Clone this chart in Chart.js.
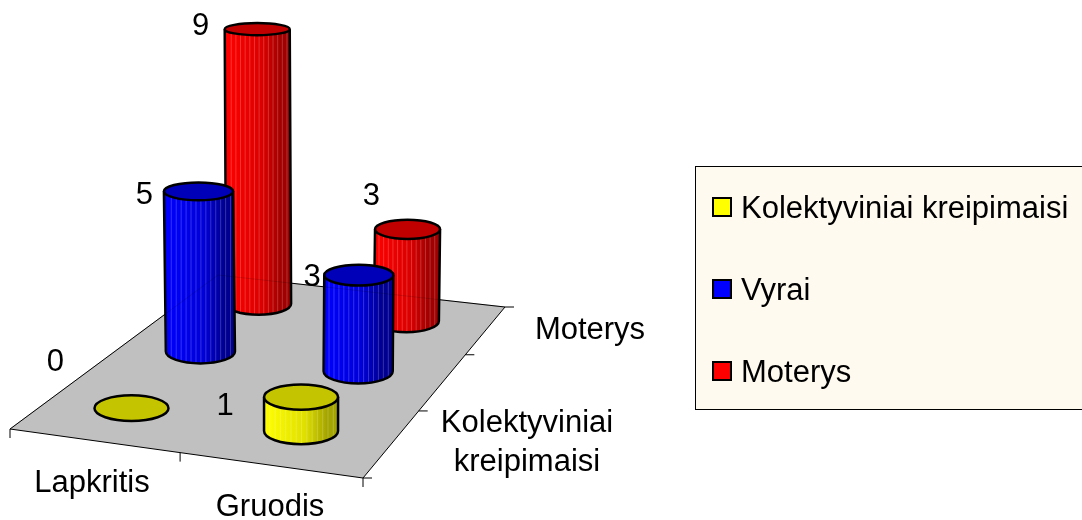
<!DOCTYPE html>
<html>
<head>
<meta charset="utf-8">
<title>Kreipimaisi</title>
<script src="https://cdn.jsdelivr.net/npm/chart.js@4/dist/chart.umd.min.js"></script>
<style>
html, body { margin: 0; padding: 0; background: #fff; }
canvas { display: block; }
</style>
</head>
<body>
<canvas id="myChart" width="1082" height="520"></canvas>
<script>
const categories = ['Lapkritis', 'Gruodis'];
const seriesNames = ['Kolektyviniai kreipimaisi', 'Vyrai', 'Moterys'];
const kolektyviniai = [0, 1];
const vyrai = [5, 3];
const moterys = [9, 3];
const seriesValues = [kolektyviniai, vyrai, moterys];

const FONT = '31px "Liberation Sans", Arial, sans-serif';

// floor corners in pixels: front left, front right, back right, back left
const floor = { A: [10, 429], B: [363, 478], C: [505, 307], D: [218, 275] };
// perspective pull along each floor direction
const K_U = 0.93;
const K_V = 1.29;

// series colours: light side, middle, dark side, top cap, legend
const colors = [
    { light: '#ffff00', mid: '#e0e000', dark: '#a4a400', top: '#c4c400', key: '#ffff00' },
    { light: '#0000ff', mid: '#0000d8', dark: '#000090', top: '#0000b8', key: '#0000ff' },
    { light: '#ff0000', mid: '#dc0000', dark: '#a00000', top: '#c00000', key: '#ff0000' }
];

// where the value labels sit relative to the cylinder top, [series][category]
const labelOffsets = [
    [[-76, -46], [-76, 9]],
    [[-56, 4], [-46, 2]],
    [[-58, -3], [-35, -33]]
];

function warp(t, k) {
    return t * k / (1 + (k - 1) * t);
}

function floorPoint(u, v) {
    const fu = warp(u, K_U);
    const fv = warp(v, K_V);
    const { A, B, C, D } = floor;
    const fx = A[0] + (B[0] - A[0]) * fu;
    const fy = A[1] + (B[1] - A[1]) * fu;
    const bx = D[0] + (C[0] - D[0]) * fu;
    const by = D[1] + (C[1] - D[1]) * fu;
    return [fx + (bx - fx) * fv, fy + (by - fy) * fv];
}

function fraction(scale, value) {
    return (scale.getPixelForValue(value) - scale.left) / scale.width;
}

function flatness(y) {
    return 5.5 + 0.018 * y;
}

function drawCylinder(ctx, baseX, baseY, topX, topY, rx, c) {
    const baseRy = flatness(baseY);
    const topRy = flatness(topY);
    ctx.lineWidth = 2.5;
    ctx.strokeStyle = '#000';

    function side() {
        ctx.moveTo(topX - rx, topY);
        ctx.lineTo(baseX - rx, baseY);
        ctx.ellipse(baseX, baseY, rx, baseRy, 0, Math.PI, 0, true);
        ctx.lineTo(topX + rx, topY);
    }

    if (baseY - topY > 0.5) {
        ctx.save();
        ctx.beginPath();
        side();
        ctx.closePath();
        const grad = ctx.createLinearGradient(baseX - rx, 0, baseX + rx, 0);
        grad.addColorStop(0, c.light);
        grad.addColorStop(0.55, c.mid);
        grad.addColorStop(0.85, c.dark);
        grad.addColorStop(1, c.dark);
        ctx.fillStyle = grad;
        ctx.fill();
        ctx.clip();
        // thin facet lines of the cylinder
        ctx.fillStyle = 'rgba(255,255,255,0.2)';
        for (let i = 1; i < 14; i++) {
            ctx.fillRect(baseX - rx + i * rx / 7, topY, 1, baseY - topY + baseRy);
        }
        ctx.restore();

        ctx.beginPath();
        side();
        ctx.stroke();
    }

    ctx.beginPath();
    ctx.ellipse(topX, topY, rx, topRy, 0, 0, Math.PI * 2);
    ctx.fillStyle = c.top;
    ctx.fill();
    ctx.stroke();
}

function line(ctx, x1, y1, x2, y2) {
    ctx.beginPath();
    ctx.moveTo(x1, y1);
    ctx.lineTo(x2, y2);
    ctx.stroke();
}

const scenePlugin = {
    id: 'scene',
    afterDatasetsDraw(chart) {
        const ctx = chart.ctx;
        const xs = chart.scales.x;
        const ys = chart.scales.y;
        const zs = chart.scales.z;
        const { A, B, C, D } = floor;

        ctx.save();

        // floor
        ctx.beginPath();
        ctx.moveTo(A[0], A[1]);
        ctx.lineTo(B[0], B[1]);
        ctx.lineTo(C[0], C[1]);
        ctx.lineTo(D[0], D[1]);
        ctx.closePath();
        ctx.fillStyle = '#c0c0c0';
        ctx.fill();
        ctx.strokeStyle = '#000';
        ctx.lineWidth = 1;
        ctx.stroke();

        // ticks on the front and right edges
        [-0.5, 0.5, 1.5].forEach(function (i) {
            const p = floorPoint(fraction(xs, i), 0);
            line(ctx, p[0], p[1], p[0], p[1] + 9);
        });
        [-0.5, 0.5, 1.5, 2.5].forEach(function (s) {
            const p = floorPoint(1, fraction(zs, s));
            line(ctx, p[0], p[1], p[0] + 9, p[1]);
        });

        // cylinders, back row first
        const tops = [];
        for (let s = seriesValues.length - 1; s >= 0; s--) {
            const meta = chart.getDatasetMeta(s);
            meta._parsed.forEach(function (item, i) {
                const v = fraction(zs, s);
                const p = floorPoint(fraction(xs, item.x), v);
                const cx = p[0] - 1.5;
                const rx = 38.4 - 6.8 * warp(v, K_V);
                const unit = Math.pow(rx / 34.5, 0.8);
                const h = (ys.getPixelForValue(0) - ys.getPixelForValue(item.y)) * unit;
                const topY = p[1] - h;
                // tall columns lean away from the middle of the floor
                const topX = cx + (cx - 300) * h * 0.00012;
                drawCylinder(ctx, cx, p[1], topX, topY, rx, colors[s]);
                tops.push({ s: s, i: i, x: cx, y: topY, value: item.y });
            });
        }

        // floor edges show faintly through the cylinders
        ctx.strokeStyle = 'rgba(0,0,0,0.14)';
        ctx.lineWidth = 1;
        line(ctx, A[0], A[1], D[0], D[1]);
        line(ctx, D[0], D[1], C[0], C[1]);

        // value labels
        ctx.font = FONT;
        ctx.fillStyle = '#000';
        ctx.textAlign = 'center';
        ctx.textBaseline = 'middle';
        tops.forEach(function (t) {
            const off = labelOffsets[t.s][t.i];
            ctx.fillText(String(t.value), t.x + off[0], t.y + off[1]);
        });

        // axis labels
        ctx.fillText(categories[0], 92, 483);
        ctx.fillText(categories[1], 270, 507);
        ctx.fillText(seriesNames[2], 590, 330);
        seriesNames[0].split(' ').forEach(function (word, i) {
            ctx.fillText(word, 527, 423 + i * 39);
        });

        // legend box
        ctx.fillStyle = '#fffaf0';
        ctx.strokeStyle = '#000';
        ctx.lineWidth = 1;
        ctx.fillRect(695.5, 166.5, 390, 243);
        ctx.strokeRect(695.5, 166.5, 390, 243);
        ctx.textAlign = 'left';
        ctx.textBaseline = 'alphabetic';
        seriesNames.forEach(function (name, s) {
            const keyY = 198 + s * 82;
            ctx.fillStyle = colors[s].key;
            ctx.lineWidth = 2;
            ctx.fillRect(713, keyY, 18, 18);
            ctx.strokeRect(713, keyY, 18, 18);
            ctx.fillStyle = '#000';
            ctx.fillText(name, 741, keyY + 20);
        });

        ctx.restore();
    }
};

const chartCtx = document.getElementById('myChart').getContext('2d');
const myChart = new Chart(chartCtx, {
    type: 'scatter',
    data: {
        datasets: seriesNames.map(function (name, s) {
            return {
                label: name,
                data: seriesValues[s].map(function (value, i) {
                    return { x: i, y: value };
                }),
                pointRadius: 0,
                showLine: false
            };
        })
    },
    options: {
        responsive: false,
        animation: false,
        layout: { padding: 0 },
        plugins: {
            legend: { display: false },
            tooltip: { enabled: false }
        },
        scales: {
            x: { type: 'linear', min: -0.5, max: 1.5, display: false },
            y: { type: 'linear', min: 0, max: 16.25, display: false },
            z: { type: 'linear', axis: 'x', min: -0.5, max: 2.5, display: false }
        }
    },
    plugins: [scenePlugin]
});
</script>
</body>
</html>
